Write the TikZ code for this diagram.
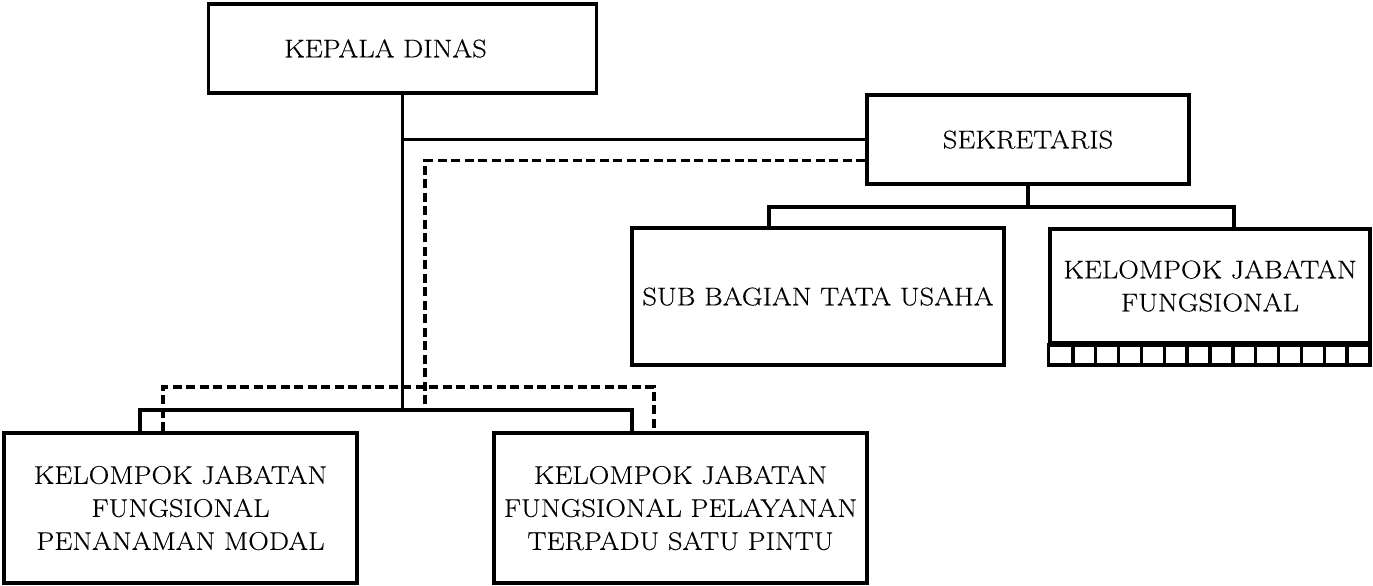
\documentclass[tikz,border=0pt]{standalone}
\usepackage{fontspec}
\setmainfont{Latin Modern Roman}[FakeStretch=1.12,FakeBold=0.4]
\begin{document}
\begin{tikzpicture}[x=1pt,y=-1pt,
  box/.style={draw, line width=3.5pt, inner sep=0pt, align=center, font=\fontsize{25.5}{33}\selectfont},
  conn/.style={line width=3.5pt},
  dashline/.style={line width=3.5pt, dash pattern=on 9pt off 4.5pt}]
\useasboundingbox (0,0) rectangle (1373,586);
% boxes
\node[box, minimum width=388pt, minimum height=89pt] (kd) at (402.5,48.5) {KEPALA DINAS\hspace{34pt}};
\node[box, minimum width=322pt, minimum height=89pt] (sek) at (1028,139.5) {SEKRETARIS};
\node[box, minimum width=372pt, minimum height=137pt] (sub) at (818,296.5) {SUB BAGIAN TATA USAHA};
\node[box, minimum width=320pt, minimum height=114pt] (kjf) at (1210,286) {KELOMPOK JABATAN\\FUNGSIONAL};
\node[box, minimum width=353pt, minimum height=150pt] (lb) at (180.5,508) {KELOMPOK JABATAN\\FUNGSIONAL\\PENANAMAN MODAL};
\node[box, minimum width=373pt, minimum height=150pt] (rb) at (680.5,508) {KELOMPOK JABATAN\\FUNGSIONAL PELAYANAN\\TERPADU SATU PINTU};
% grid strip under kjf
\coordinate (gb) at (1370,365);
\draw[conn] (kjf.south west) rectangle (gb);
\foreach \i in {1,...,13} {
  \draw[conn] ({1050+\i*22.857},343) -- ({1050+\i*22.857},365);
}
% solid connectors
\coordinate (jb) at (402.5,410);
\coordinate (ls) at (140,410);
\coordinate (rs) at (632,410);
\draw[conn] (kd.south) -- (jb);
\draw[conn] (sek.west) -- (sek.west -| kd.south);
\draw[conn] (lb.north -| ls) -- (ls) -- (rs) -- (rb.north -| rs);
% dashed connectors
\coordinate (dt) at (425,160.5);
\coordinate (db) at (425,410);
\coordinate (dl) at (163,387);
\coordinate (dr) at (654,387);
\draw[dashline] (sek.west |- dt) -- (dt) -- (db);
\draw[dashline] (lb.north -| dl) -- (dl) -- (dr) -- (rb.north -| dr);
% sekretaris to subordinates
\coordinate (sj) at (1028,207);
\coordinate (sl) at (769,207);
\coordinate (sr) at (1234,207);
\draw[conn] (sek.south) -- (sj);
\draw[conn] (sub.north -| sl) -- (sl) -- (sr) -- (kjf.north -| sr);
\end{tikzpicture}
\end{document}
